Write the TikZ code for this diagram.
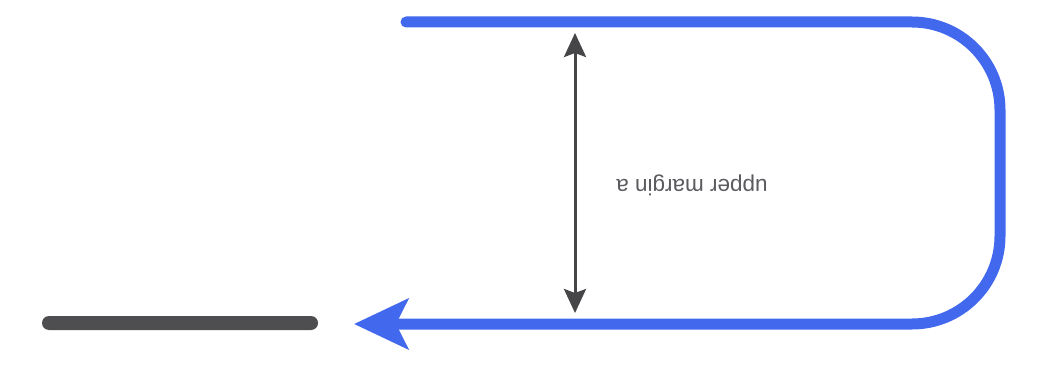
\documentclass[tikz,border=0pt]{standalone}
\usepackage{fontspec}
\setmainfont{Liberation Sans}
\usetikzlibrary{arrows.meta}
\definecolor{flowblue}{RGB}{66,104,238}
\definecolor{darkbar}{RGB}{78,78,80}
\definecolor{gapgray}{RGB}{70,70,72}
\definecolor{labelgray}{RGB}{90,90,95}
\tikzset{
  flow/.style={draw=flowblue, line width=11pt, line cap=round, rounded corners=88pt,
    -{Stealth[length=54pt, width=50pt, inset=12pt]}},
  gap/.style={draw=gapgray, line width=3pt,
    {Stealth[length=24pt, width=22pt, inset=4pt]}-{Stealth[length=24pt, width=22pt, inset=4pt]}},
  barbox/.style={fill=darkbar, rounded corners=7pt, minimum width=276pt, minimum height=14pt,
    inner sep=0pt},
  gaplabel/.style={text=labelgray, font=\fontsize{22.5}{26}\selectfont, rotate=180, inner sep=0pt}
}
\begin{document}
\begin{tikzpicture}[x=1pt, y=-1pt]
  \useasboundingbox (0,0) rectangle (1059,366);
  % blocking bar on the left
  \node[barbox] (bar) at (180,323) {};
  % loop path coming back towards the bar
  \coordinate (start) at (406,22);
  \coordinate (ne) at (1000,22);
  \coordinate (se) at (1000,324);
  \coordinate (tip) at (354,324);
  \draw[flow] (start) -- (ne) -- (se) -- (tip);
  % gap between the two runs
  \coordinate (gtop) at (575,33);
  \coordinate (gbot) at (575,313);
  \draw[gap] (gtop) -- (gbot);
  \node[gaplabel] (lbl) at (692,185) {upper margin a};
\end{tikzpicture}
\end{document}
